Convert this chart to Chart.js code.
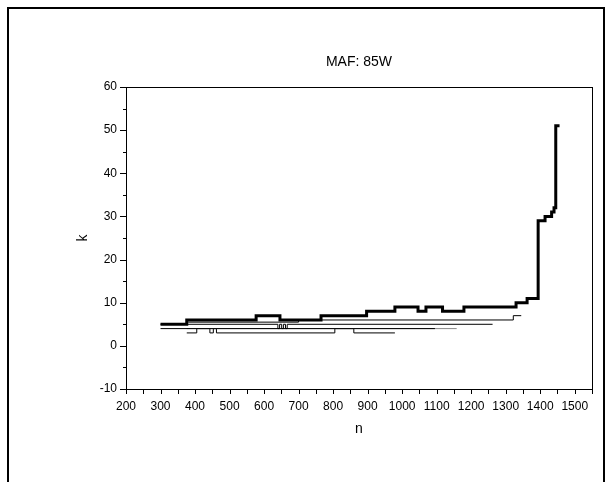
<!DOCTYPE html>
<html>
<head>
<meta charset="utf-8">
<script src="https://cdn.jsdelivr.net/npm/chart.js@4.4.1/dist/chart.umd.min.js"></script>
<style>
  html, body { margin: 0; padding: 0; background: #fff; overflow: hidden; }
  #wrap { position: relative; width: 612px; height: 482px; }
  #frame { position: absolute; left: 7px; top: 7px; width: 594px; height: 500px; border: 2px solid #000; border-bottom: none; }
  canvas { position: absolute; left: 0; top: 0; }
</style>
</head>
<body>
<div id="wrap">
  <div id="frame"></div>
  <canvas id="myChart" width="612" height="482"></canvas>
</div>
<script>
// Step curves: n where each level starts, and k for that level
const thickN = [300, 376, 577, 646, 765, 897, 979, 1046, 1069, 1117, 1179, 1330, 1362, 1394, 1414, 1433, 1440, 1445, 1456];
const thickK = [5, 6, 7, 6, 7, 8, 9, 8, 9, 8, 9, 10, 11, 29, 30, 31, 32, 51, 51];

const line1N = [380, 700, 1322, 1345];
const line1K = [5.5, 6, 7, 7];

const line2N = [300, 640, 645, 651, 656, 662, 667, 1262];
const line2K = [5, 4, 5, 4, 5, 4, 5, 5];

const line3N = [300, 1095];
const line3K = [4, 4];

const line4N = [376, 1158];
const line4K = [4, 4];

const line5N = [376, 405, 443, 453, 462, 805, 860, 979];
const line5K = [3, 4, 3, 4, 3, 4, 3, 3];

// Axis ticks
const xMin = 200, xMax = 1550, xStep = 50, xLabelEvery = 100;
const yMin = -10, yMax = 60, yStep = 5, yLabelEvery = 10;

const font = "'Liberation Sans', Arial, Helvetica, sans-serif";

function toPoints(ns, ks) {
  return ns.map((n, i) => ({ x: n, y: ks[i] }));
}

// 'before' = run flat to the next n, then jump
function stepSet(ns, ks, width, color) {
  return {
    data: toPoints(ns, ks),
    borderColor: color,
    borderWidth: width,
    stepped: 'before',
    pointRadius: 0,
    fill: false
  };
}

// Box round the plot area plus outward tick marks (long at labels, short between)
const frameTicks = {
  id: 'frameTicks',
  afterDraw(chart) {
    const { ctx, chartArea: a } = chart;
    const xs = chart.scales.x, ys = chart.scales.y;
    ctx.save();
    ctx.strokeStyle = '#000';
    ctx.lineWidth = 1;
    ctx.strokeRect(Math.round(a.left) + 0.5, Math.round(a.top) + 0.5,
      Math.round(a.right - a.left), Math.round(a.bottom - a.top));
    ctx.beginPath();
    ys.ticks.forEach(t => {
      const y = Math.round(ys.getPixelForValue(t.value)) + 0.5;
      const len = t.value % yLabelEvery === 0 ? 6 : 3;
      ctx.moveTo(Math.round(a.left) - len, y);
      ctx.lineTo(Math.round(a.left), y);
    });
    xs.ticks.forEach(t => {
      const x = Math.round(xs.getPixelForValue(t.value)) + 0.5;
      ctx.moveTo(x, Math.round(a.bottom) + 1);
      ctx.lineTo(x, Math.round(a.bottom) + 5);
    });
    ctx.stroke();
    ctx.restore();
  }
};

const ctx = document.getElementById('myChart');

new Chart(ctx, {
  type: 'line',
  data: {
    datasets: [
      stepSet(thickN, thickK, 3, '#000'),
      stepSet(line1N, line1K, 1, '#000'),
      stepSet(line2N, line2K, 1, '#000'),
      stepSet(line3N, line3K, 1, '#000'),
      stepSet(line4N, line4K, 1, '#888'),
      stepSet(line5N, line5K, 1, '#000')
    ]
  },
  options: {
    responsive: false,
    animation: false,
    layout: { padding: { left: 70, right: 20, top: 0, bottom: 40 } },
    plugins: {
      legend: { display: false },
      tooltip: { enabled: false },
      title: {
        display: true,
        fullSize: false,
        text: 'MAF: 85W',
        color: '#000',
        font: { family: font, size: 14, weight: 'normal' },
        padding: { top: 53.6, bottom: 16.6 }
      }
    },
    scales: {
      x: {
        type: 'linear',
        min: xMin,
        max: xMax,
        afterFit(scale) { scale.height = 53; },
        grid: { display: false, drawTicks: false },
        border: { display: false },
        ticks: {
          stepSize: xStep,
          autoSkip: false,
          maxRotation: 0,
          padding: 10,
          color: '#000',
          font: { family: font, size: 12 },
          callback: v => (v % xLabelEvery === 0 && v < xMax ? v : '')
        },
        title: {
          display: true,
          text: 'n',
          color: '#000',
          font: { family: font, size: 14 },
          padding: { top: 2, bottom: 4 }
        }
      },
      y: {
        type: 'linear',
        min: yMin,
        max: yMax,
        afterFit(scale) { scale.width = 56; },
        grid: { display: false, drawTicks: false },
        border: { display: false },
        ticks: {
          stepSize: yStep,
          autoSkip: false,
          padding: 9,
          color: '#000',
          font: { family: font, size: 12 },
          callback: v => (v % yLabelEvery === 0 ? v : '')
        },
        title: {
          display: true,
          text: 'k',
          color: '#000',
          font: { family: font, size: 14 },
          padding: { top: 4.6, bottom: 4 }
        }
      }
    }
  },
  plugins: [frameTicks]
});
</script>
</body>
</html>
